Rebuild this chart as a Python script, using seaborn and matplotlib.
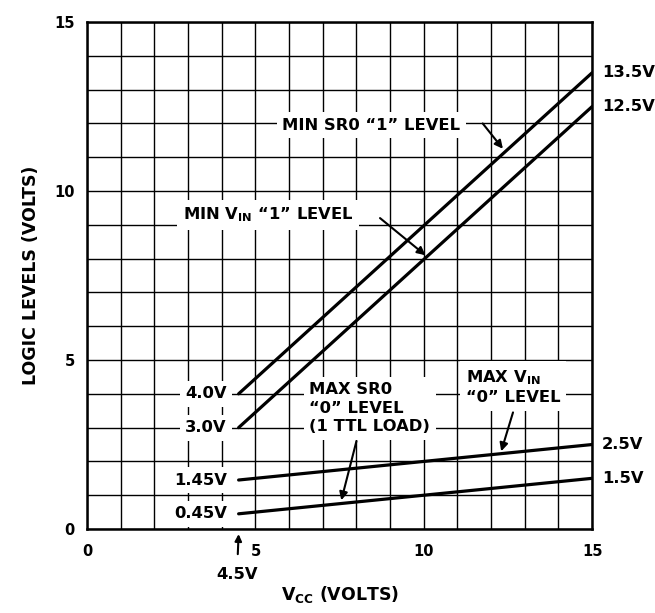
import numpy as np
import pandas as pd
import matplotlib
matplotlib.use('Agg')
import matplotlib.pyplot as plt
import seaborn as sns

# data
vcc = [4.5, 15.0]
sr0_high = [4.0, 13.5]    # MIN SR0 "1" LEVEL
vin_high = [3.0, 12.5]    # MIN VIN "1" LEVEL
vin_low = [1.45, 2.5]     # MAX VIN "0" LEVEL
sr0_low = [0.45, 1.5]     # MAX SR0 "0" LEVEL
left_labels = ['4.0V', '3.0V', '1.45V', '0.45V']
right_labels = ['13.5V', '12.5V', '2.5V', '1.5V']
major_ticks = [0, 5, 10, 15]

sns.set_style('white')
plt.rcParams['font.family'] = ['DejaVu Sans']
plt.rcParams['font.weight'] = 'bold'
plt.rcParams['axes.labelweight'] = 'bold'
plt.rcParams['text.color'] = 'black'
plt.rcParams['axes.labelcolor'] = 'black'
plt.rcParams['xtick.color'] = 'black'
plt.rcParams['ytick.color'] = 'black'
plt.rcParams['mathtext.fontset'] = 'custom'
plt.rcParams['mathtext.rm'] = 'DejaVu Sans:bold'
plt.rcParams['mathtext.default'] = 'rm'

fig = plt.figure(figsize=(6.55, 6.13), dpi=100)
ax = fig.add_axes([0.133, 0.137, 0.771, 0.827])

series = [sr0_high, vin_high, vin_low, sr0_low]
for ys in series:
    sns.lineplot(x=vcc, y=ys, ax=ax, color='black', linewidth=2.3, zorder=3)

ax.set_xlim(0, 15)
ax.set_ylim(0, 15)
ax.set_xticks(major_ticks)
ax.set_yticks(major_ticks)
ax.set_xticks(np.arange(0, 16), minor=True)
ax.set_yticks(np.arange(0, 16), minor=True)
ax.grid(which='both', color='black', linewidth=1.0, zorder=1)
ax.tick_params(which='both', length=0, labelsize=10.5)
ax.tick_params(axis='x', pad=11)
ax.tick_params(axis='y', pad=9)
for s in ax.spines.values():
    s.set_linewidth(1.8)
    s.set_color('black')

ax.set_ylabel('LOGIC LEVELS (VOLTS)', fontsize=12.5, labelpad=10)
ax.set_xlabel('V$_{CC}$ (VOLTS)', fontsize=12.5, labelpad=18)

box = dict(facecolor='white', edgecolor='none', pad=4)
fs = 11.8

# labels at the line starts
for lab, ys in zip(left_labels, series):
    ax.text(vcc[0] - 0.35, ys[0], lab, ha='right', va='center', fontsize=fs,
            bbox=box, zorder=4)

# labels at the line ends
for lab, ys in zip(right_labels, series):
    ax.text(vcc[1] + 0.3, ys[1], lab, ha='left', va='center', fontsize=fs,
            clip_on=False)

arrow = dict(arrowstyle='-|>', color='black', lw=1.5, mutation_scale=12,
             shrinkA=0, shrinkB=0)

ax.text(5.8, 11.95, 'MIN SR0 \u201c1\u201d LEVEL', ha='left', va='center',
        fontsize=fs, bbox=box, zorder=4)
ax.annotate('', xy=(12.35, 11.25), xytext=(11.75, 12.0), arrowprops=arrow, zorder=5)

ax.text(2.85, 9.3, 'MIN V$_{IN}$ \u201c1\u201d LEVEL', ha='left', va='center',
        fontsize=fs, bbox=box, zorder=4)
ax.annotate('', xy=(10.05, 8.1), xytext=(8.7, 9.2), arrowprops=arrow, zorder=5)

ax.text(6.6, 3.57, 'MAX SR0\n\u201c0\u201d LEVEL\n(1 TTL LOAD)', ha='left',
        va='center', fontsize=fs, linespacing=1.3, bbox=box, zorder=4)
ax.annotate('', xy=(7.55, 0.85), xytext=(8.0, 2.6), arrowprops=arrow, zorder=5)

ax.text(11.25, 4.2, 'MAX V$_{IN}$\n\u201c0\u201d LEVEL', ha='left', va='center',
        fontsize=fs, linespacing=1.25, bbox=box, zorder=4)
ax.annotate('', xy=(12.3, 2.3), xytext=(12.65, 3.45), arrowprops=arrow, zorder=5)

# 4.5V marker under the axis
ax.annotate('4.5V', xy=(4.5, -0.15), xytext=(4.45, -1.35), ha='center', va='center',
            fontsize=fs, annotation_clip=False,
            arrowprops=dict(arrowstyle='-|>', color='black', lw=1.5,
                            mutation_scale=10, shrinkA=7, shrinkB=0))

fig.savefig('out.png', dpi=100, facecolor='white')
